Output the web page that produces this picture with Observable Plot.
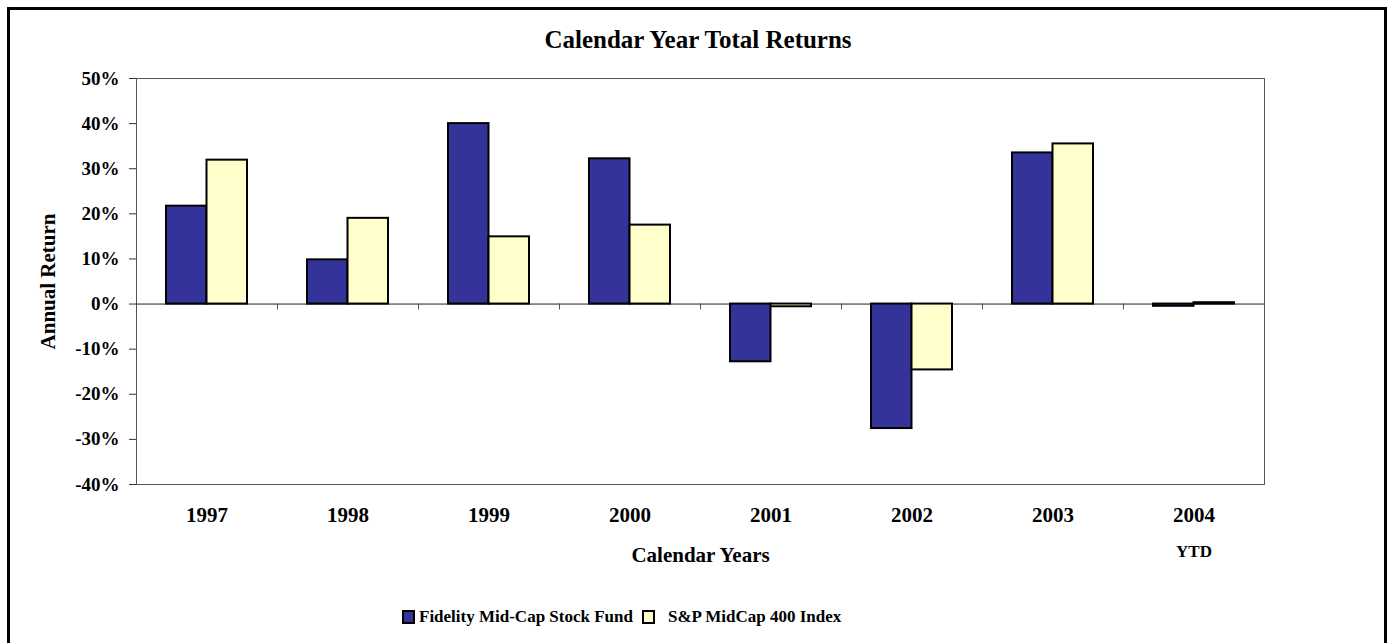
<!DOCTYPE html>
<html><head><meta charset="utf-8">
<script src="https://cdn.jsdelivr.net/npm/d3@7"></script>
<script src="https://cdn.jsdelivr.net/npm/@observablehq/plot@0.6"></script>
<style>
body{margin:0;background:#fff;font-family:"Liberation Serif","Times New Roman",serif;}
#wrap{position:relative;width:1388px;height:643px;overflow:hidden;background:#fff;}
#border{position:absolute;left:7px;top:7px;width:1374px;height:700px;border:3px solid #000;}
#title{position:absolute;left:0;width:1396px;top:27px;text-align:center;font-weight:bold;font-size:25px;line-height:1;color:#000;}
#chart{position:absolute;left:0;top:60px;}
#legend{position:absolute;left:402px;top:608px;display:flex;align-items:center;font-weight:bold;font-size:17px;line-height:1;color:#000;}
.sw{display:inline-block;width:9px;height:10px;border:2px solid #000;}
</style>
</head><body>
<div id="wrap">
<div id="border"></div>
<div id="title">Calendar Year Total Returns</div>
<div id="chart"></div>
<div id="legend"></div>
</div>
<script>
const years = [1997, 1998, 1999, 2000, 2001, 2002, 2003, 2004];
const fundReturns = [21.7, 9.8, 40.0, 32.2, -12.8, -27.6, 33.5, -0.5];
const indexReturns = [31.9, 19.0, 14.9, 17.5, -0.6, -14.6, 35.5, 0.3];
const seriesNames = ["Fidelity Mid-Cap Stock Fund", "S&P MidCap 400 Index"];
const seriesColors = ["#333399", "#FFFFCC"];
const yTicks = [-40, -30, -20, -10, 0, 10, 20, 30, 40, 50];
const yearNotes = [{year: 2004, note: "YTD"}];

const rows = years.flatMap((yr, i) => [
  {year: yr, series: seriesNames[0], value: fundReturns[i]},
  {year: yr, series: seriesNames[1], value: indexReturns[i]}
]);
const boundaries = years.slice(0, -1).map(y => y + 0.5);

const chart = Plot.plot({
  width: 1388,
  height: 520,
  marginTop: 18,
  marginBottom: 96,
  marginLeft: 136,
  marginRight: 124,
  style: {fontFamily: "'Liberation Serif', 'Times New Roman', serif", fontWeight: "bold", fontSize: "19px", color: "#000", background: "transparent"},
  x: {type: "linear", domain: [years[0] - 0.5, years[years.length - 1] + 0.5]},
  y: {domain: [yTicks[0], yTicks[yTicks.length - 1]]},
  color: {domain: seriesNames, range: seriesColors},
  marks: [
    Plot.frame({stroke: "#555", strokeWidth: 1}),
    Plot.ruleY([0], {stroke: "#222", strokeWidth: 1}),
    Plot.ruleX(boundaries, {x: d => d, y1: 0, y2: 0, insetBottom: -6, stroke: "#555"}),
    Plot.rectY(rows.filter(d => d.series === seriesNames[0]), {
      x1: d => d.year - 0.5, x2: d => d.year + 0.5, y: "value", fill: "series",
      insetLeft: 30, insetRight: 70.5, stroke: "#000", strokeWidth: 2
    }),
    Plot.rectY(rows.filter(d => d.series === seriesNames[1]), {
      x1: d => d.year - 0.5, x2: d => d.year + 0.5, y: "value", fill: "series",
      insetLeft: 70.5, insetRight: 30, stroke: "#000", strokeWidth: 2
    }),
    Plot.axisY({ticks: yTicks, tickFormat: d => d + "%", tickSize: 7, tickPadding: 10, label: null, stroke: "#333"}),
    Plot.axisX({ticks: years, tickFormat: d => String(d), tickSize: 0, tickPadding: 23, fontSize: 21, label: null}),
    Plot.text(yearNotes, {x: "year", text: "note", frameAnchor: "bottom", dy: 67, fontSize: 17, fontWeight: "bold", lineAnchor: "middle"}),
    Plot.text(["Calendar Years"], {frameAnchor: "bottom", dy: 71, fontSize: 21, fontWeight: "bold", lineAnchor: "middle"}),
    Plot.text(["Annual Return"], {frameAnchor: "left", dx: -88, rotate: -90, fontSize: 21, fontWeight: "bold", lineAnchor: "middle", textAnchor: "middle"})
  ]
});
document.getElementById("chart").appendChild(chart);

const legend = document.getElementById("legend");
seriesNames.forEach((name, i) => {
  const sw = document.createElement("span");
  sw.className = "sw";
  sw.style.background = seriesColors[i];
  sw.style.marginLeft = i === 0 ? "0px" : "9px";
  sw.style.marginRight = i === 0 ? "4px" : "13px";
  legend.appendChild(sw);
  const t = document.createElement("span");
  t.textContent = name;
  legend.appendChild(t);
});
</script>
</body></html>
